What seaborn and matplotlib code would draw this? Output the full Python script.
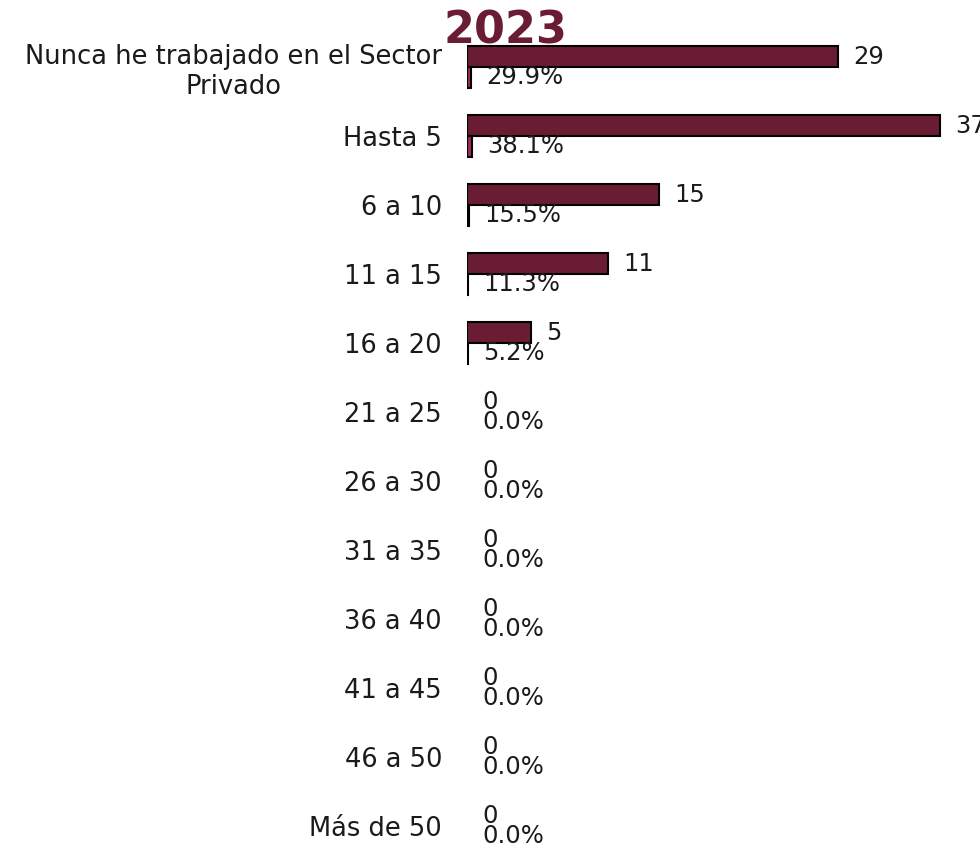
import matplotlib
matplotlib.use("Agg")
import matplotlib.pyplot as plt
import seaborn as sns
import pandas as pd

categories = [
    "Nunca he trabajado en el Sector\nPrivado", "Hasta 5", "6 a 10", "11 a 15",
    "16 a 20", "21 a 25", "26 a 30", "31 a 35", "36 a 40", "41 a 45",
    "46 a 50", "Más de 50",
]
counts = [29, 37, 15, 11, 5, 0, 0, 0, 0, 0, 0, 0]
shares = [0.299, 0.381, 0.155, 0.113, 0.052, 0, 0, 0, 0, 0, 0, 0]
series = ["Cantidad", "Porcentaje"]
colors = ["#6A1C32", "#9E2A5B"]
title = "2023"

df = pd.DataFrame({
    "categoria": categories * 2,
    "serie": [series[0]] * len(categories) + [series[1]] * len(categories),
    "valor": counts + shares,
})

sns.set_theme(style="white")
plt.rcParams["font.family"] = ["DejaVu Sans"]

fig = plt.figure(figsize=(9.8, 8.43), dpi=100)
ax = fig.add_axes([467 / 980, -0.0208, 0.53, 0.9822])

sns.barplot(data=df, y="categoria", x="valor", hue="serie", order=categories,
            hue_order=series, palette=colors, saturation=1, orient="h",
            width=0.6, edgecolor="black", linewidth=1.5, legend=False, ax=ax)

for cont, fmt in zip(ax.containers, ["{:.0f}", "{:.1%}"]):
    for p in cont.patches:
        if p.get_width() == 0:
            p.set_linewidth(0)
    ax.bar_label(cont, labels=[fmt.format(v) for v in cont.datavalues],
                 padding=11, fontsize=17.5, color="#1a1a1a")

ax.set_xlim(0, 40.6)
ax.set_ylim(11.5, -0.5)
ax.set_xlabel("")
ax.set_ylabel("")
ax.set_xticks([])
ax.tick_params(axis="y", length=0, pad=18, labelsize=18.5, labelcolor="#1a1a1a")
for lbl in ax.get_yticklabels():
    lbl.set_multialignment("center")
for s in ax.spines.values():
    s.set_visible(False)

fig.text(505 / 980, 1 - 44 / 843, title, ha="center", va="baseline",
         fontsize=32, fontweight="bold", color="#6A1C32")

fig.savefig("out.png", dpi=100)
